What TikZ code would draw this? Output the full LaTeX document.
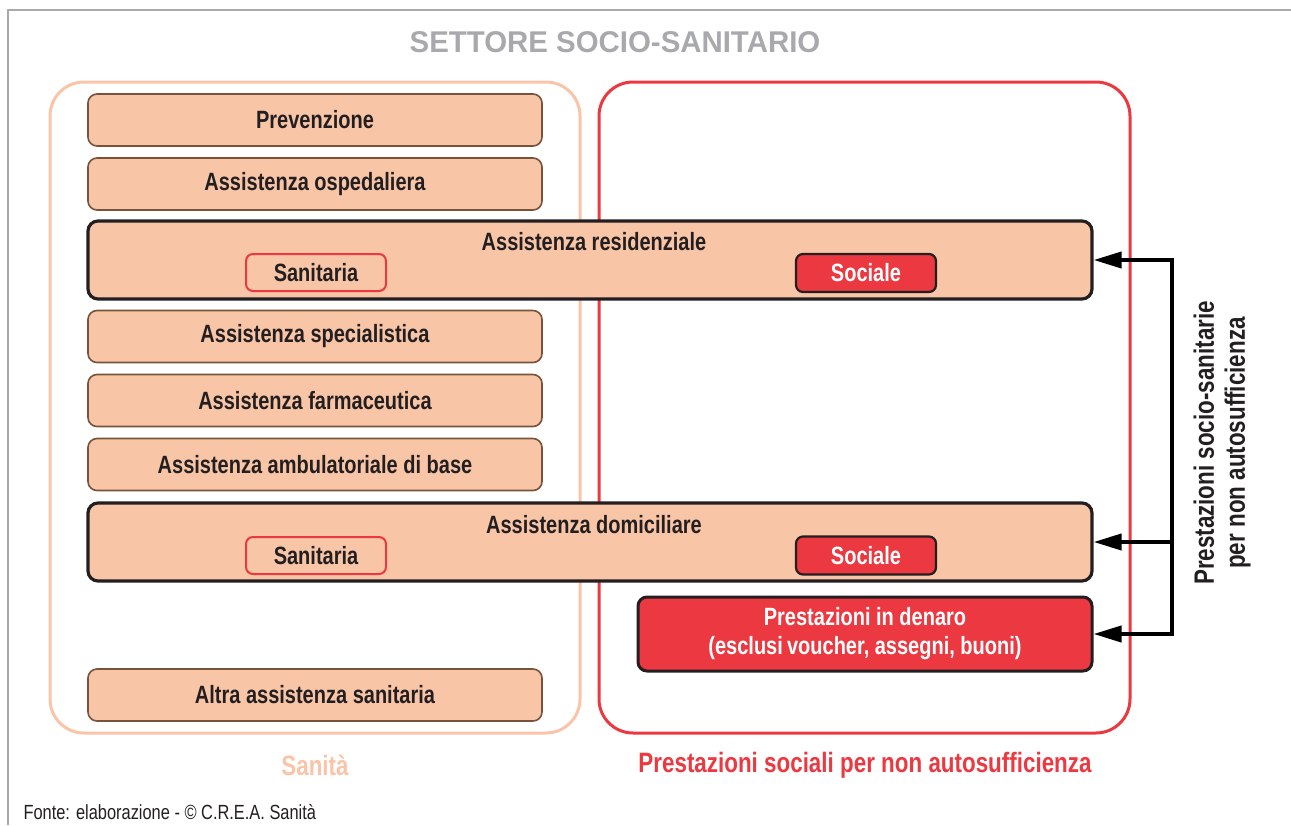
\documentclass[tikz,border=0pt]{standalone}
\usepackage{fontspec}
\setmainfont[FakeStretch=0.8]{Liberation Sans}
\newfontfamily\titlefont[FakeStretch=0.98]{Liberation Sans}
\usepackage{xcolor}
\definecolor{peachfill}{RGB}{249,197,167}
\definecolor{peachline}{RGB}{249,196,168}
\definecolor{boxedge}{RGB}{120,82,58}
\definecolor{inkcolor}{RGB}{35,31,32}
\definecolor{redcolor}{RGB}{236,56,64}
\definecolor{framegray}{RGB}{167,169,172}
\newcommand{\boxfont}{\fontsize{25}{28}\selectfont\bfseries}
\newcommand{\labfont}{\fontsize{28}{31}\selectfont\bfseries}
\usepackage{tikz}
\usetikzlibrary{arrows.meta, positioning}

\begin{document}
\begin{tikzpicture}[x=1pt,y=-1pt,
    itembox/.style={draw=boxedge,line width=1.6pt,fill=peachfill,rounded corners=9pt,
      minimum width=454pt,minimum height=52pt,inner sep=0pt,text=inkcolor,font=\boxfont},
    widebox/.style={draw=inkcolor,line width=3.2pt,fill=peachfill,rounded corners=10pt,
      minimum width=1004pt,minimum height=78pt,inner sep=0pt},
    sanbox/.style={draw=redcolor,line width=2pt,fill=peachfill,rounded corners=7pt,
      minimum width=140pt,minimum height=37pt,inner sep=0pt,text=inkcolor,font=\boxfont},
    socbox/.style={draw=inkcolor,line width=2.2pt,fill=redcolor,rounded corners=7pt,
      minimum width=140pt,minimum height=38pt,inner sep=0pt,text=white,font=\boxfont},
    area/.style={line width=3pt,rounded corners=34pt,minimum width=530pt,minimum height=651pt,inner sep=0pt},
    link/.style={draw=black,line width=4pt,-{Triangle[length=28pt,width=16pt]}}
  ]
  \useasboundingbox (0,0) rectangle (1291,825);
  \draw[framegray,line width=2.5pt] (1291,10) -- (8,10) -- (8,825);
  \node[font=\titlefont\fontsize{30}{34}\selectfont\bfseries,text=framegray] (title) at (615,42) {SETTORE SOCIO-SANITARIO};

  \node[area,draw=peachline] (sanita) at (315,407.5) {};
  \node[area,draw=redcolor,minimum width=531pt] (sociale) at (864.5,407.5) {};
  \node[font=\labfont,text=peachline] (sanitalab) at (315,765) {Sanità};
  \node[font=\labfont,text=redcolor] (socialelab) at (865,765) {Prestazioni sociali per non autosufficienza};

  \foreach \y/\n/\t in {120/prev/Prevenzione, 184/osp/Assistenza ospedaliera,
      336.5/spec/Assistenza specialistica, 400.5/farm/Assistenza farmaceutica,
      464.5/amb/Assistenza ambulatoriale di base, 695/altra/Altra assistenza sanitaria}
    \node[itembox] (\n) at (315,\y) {\t};

  \node[widebox] (res) at (590,260) {};
  \node[font=\boxfont,text=inkcolor] (restitle) at (594,242) {Assistenza residenziale};
  \node[sanbox] (ressan) at (316,272.5) {Sanitaria};
  \node[socbox] (ressoc) at (866,273) {Sociale};

  \node[widebox] (dom) at (590,542) {};
  \node[font=\boxfont,text=inkcolor] (domtitle) at (594,525) {Assistenza domiciliare};
  \node[sanbox] (domsan) at (316,555.5) {Sanitaria};
  \node[socbox] (domsoc) at (866,555.5) {Sociale};

  \node[socbox,line width=3pt,rounded corners=9pt,minimum width=454pt,minimum height=74pt,
    align=center] (den) at (865,634) {Prestazioni in denaro\\[1pt](esclusi\,voucher, assegni, buoni)};

  \coordinate (bus) at (1172,0);
  \draw[link,{Triangle[length=28pt,width=16pt]}-{Triangle[length=28pt,width=16pt]},line join=miter]
    (res.east) -- (res.east -| bus) -- (den.east -| bus) -- (den.east);
  \draw[link] (dom.east -| bus) -- (dom.east);

  \node[rotate=90,align=center,font=\labfont,text=inkcolor] (sidelab) at (1222,443)
    {Prestazioni socio-sanitarie\\per non autosufficienza};

  \node[anchor=west,font=\fontsize{20.5}{24}\selectfont,text=inkcolor] (fonte) at (20,812)
    {Fonte: elaborazione - © C.R.E.A. Sanità};
\end{tikzpicture}
\end{document}
